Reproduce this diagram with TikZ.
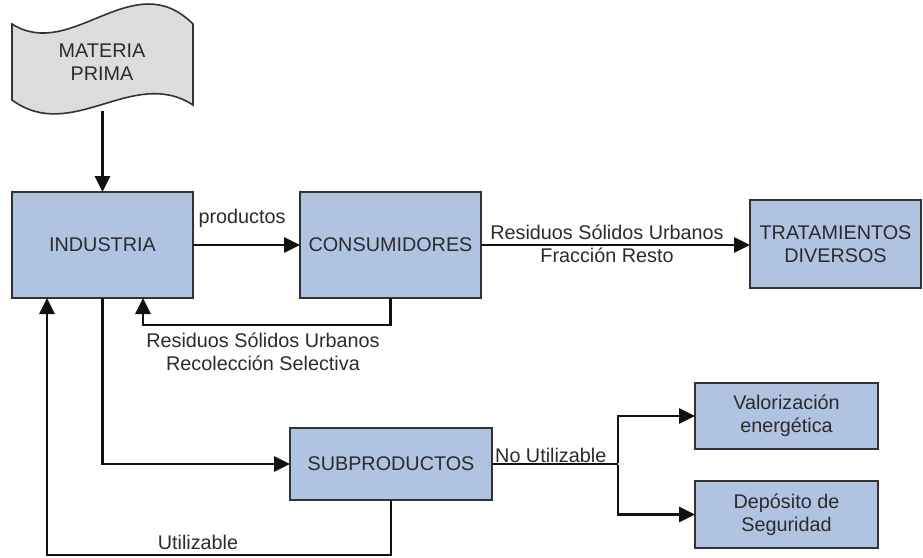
\documentclass[tikz,border=0pt]{standalone}
\usepackage{fontspec}
\setmainfont{Liberation Sans}
\usetikzlibrary{arrows.meta}
\definecolor{boxfill}{HTML}{B0C4E2}
\definecolor{boxline}{HTML}{333333}
\definecolor{docfill}{HTML}{DCDCDC}
\definecolor{txt}{HTML}{2B2B2B}
\definecolor{wire}{HTML}{111111}
\begin{document}
\begin{tikzpicture}[x=1pt,y=-1pt,
  font=\fontsize{19.8}{23}\selectfont,
  every node/.style={text=txt},
  procbox/.style={draw=boxline,fill=boxfill,line width=2pt,inner sep=0pt,outer sep=0pt,align=center},
  arr/.style={draw=wire,line width=2.8pt,-{Triangle[length=16pt,width=15pt]}},
  plain/.style={draw=wire,line width=2.8pt},
  lbl/.style={inner sep=0pt,align=center}]
\useasboundingbox (0,0) rectangle (923,557);

% raw material document shape
\draw[boxline,fill=docfill,line width=1.6pt]
  (12,24) .. controls (72,62) and (133,-36) .. (193,24)
  -- (193,105) .. controls (133,66) and (72,144) .. (12,100) -- cycle;
\node[lbl] (mp) at (102,62) {MATERIA\\PRIMA};
\coordinate (mpb) at (102.5,111);

% process boxes
\node[procbox,minimum width=181pt,minimum height=106pt] (ind) at (102.5,245) {INDUSTRIA};
\node[procbox,minimum width=181pt,minimum height=106pt] (cons) at (390.5,245) {CONSUMIDORES};
\node[procbox,minimum width=171pt,minimum height=88pt] (trat) at (835.5,244) {TRATAMIENTOS\\DIVERSOS};
\node[procbox,minimum width=202pt,minimum height=72pt] (sub) at (391,464) {SUBPRODUCTOS};
\node[procbox,minimum width=183pt,minimum height=66pt] (val) at (786.5,416) {Valorización\\energética};
\node[procbox,minimum width=183pt,minimum height=67pt] (dep) at (786.5,514.5) {Depósito de\\Seguridad};

% connectors
\draw[arr] (mpb) -- (ind.north);
\draw[arr] (ind.east) -- (cons.west);
\node[lbl] (lprod) at (242,218) {productos};

\draw[arr] (cons.east) -- (cons.east -| trat.west);
\node[lbl] (lrsu) at (607,244) {Residuos Sólidos Urbanos\\Fracción Resto};

\draw[arr] (cons.south) -- ++(0,27) -| ([xshift=40.5pt]ind.south);
\node[lbl] (lsel) at (263,351.5) {Residuos Sólidos Urbanos\\Recolección Selectiva};

\draw[arr] (ind.south) |- (sub.west);
\draw[arr] (sub.south) -- ++(0,55) -| ([xshift=-55.5pt]ind.south);
\node[lbl] (lutil) at (198,542) {Utilizable};

\coordinate (split) at (618,464);
\draw[plain] (sub.east) -- (split);
\node[lbl,anchor=base west] (lno) at (495,462) {No Utilizable};
\draw[arr] ([yshift=1.4pt]split) |- (val.west);
\draw[arr] ([yshift=-1.4pt]split) |- (dep.west);
\end{tikzpicture}
\end{document}
